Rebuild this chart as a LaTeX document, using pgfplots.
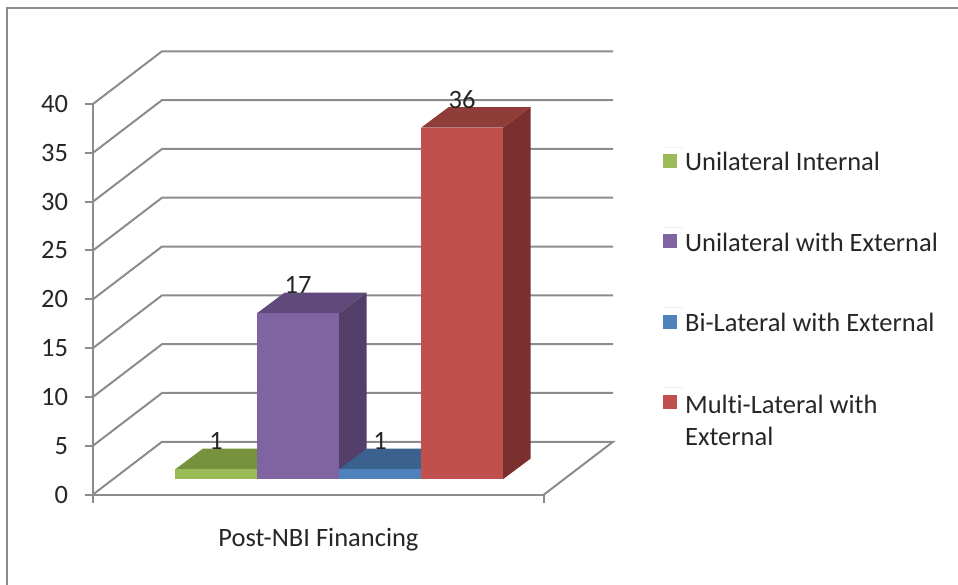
\documentclass[border=0pt]{standalone}
\usepackage{pgfplots}
\pgfplotsset{compat=1.18}
\usepackage{fontspec}
\setmainfont[RawFeature=-liga]{Carlito}
% One axis unit on x is 1pt; y carries the series values.
\definecolor{greenF}{HTML}{9BBB59}\definecolor{greenT}{HTML}{76923C}\definecolor{greenS}{HTML}{5F7530}
\definecolor{purpleF}{HTML}{8064A2}\definecolor{purpleT}{HTML}{604A7B}\definecolor{purpleS}{HTML}{533F69}
\definecolor{blueF}{HTML}{4F81BD}\definecolor{blueT}{HTML}{3B618E}\definecolor{blueS}{HTML}{335479}
\definecolor{redF}{HTML}{C0504D}\definecolor{redT}{HTML}{903C39}\definecolor{redS}{HTML}{7A302E}
\definecolor{framegrey}{HTML}{8C8C8C}
\newcommand{\chartfont}{\fontsize{26.5}{32}\selectfont}
% Offset of a bar's front face from the axis plane.
\newcommand{\barbase}{15.3pt}
\newcommand{\cuboid}[5]{% left edge, right edge, value, top colour, side colour
  \pgfmathsetmacro{\ba}{#1+27.7}\pgfmathsetmacro{\bb}{#2+27.7}\pgfmathsetmacro{\vb}{#3+2.12}
  \addplot[forget plot,fill=#4,draw=none,yshift=\barbase] coordinates {(#1,#3)(#2,#3)(\bb,\vb)(\ba,\vb)} --cycle;
  \addplot[forget plot,fill=#5,draw=none,yshift=\barbase] coordinates {(#2,0)(\bb,2.12)(\bb,\vb)(#2,#3)} --cycle;
}
\begin{document}
\begin{tikzpicture}[x=1pt,y=1pt]
\path[use as bounding box] (0,0) rectangle (958,584);
\draw[framegrey,line width=2.4pt] (7,-2) -- (7,576) -- (960,576);
\begin{axis}[
  at={(93pt,89.5pt)},anchor=south west,
  scale only axis,width=451pt,height=390.5pt,
  xmin=0,xmax=451,ymin=0,ymax=40,
  clip=false,
  axis x line*=bottom,axis y line*=left,
  axis line style={draw=framegrey,line width=2pt,-},
  tick style={draw=framegrey,line width=2pt},
  tick align=outside,
  major tick length=8.5pt,
  ytick={0,5,...,40},
  xtick={0,451},xticklabels={,},
  extra x ticks={225.5},extra x tick labels={Post-NBI Financing},
  extra x tick style={major tick length=0pt,tick label style={yshift=-30pt}},
  tick label style={font=\chartfont,text=black!85},
  /pgf/number format/assume math mode=true,
  yticklabel style={xshift=-13pt},
  every node near coord/.append style={anchor=center,yshift=28pt,font=\chartfont,text=black!85},
  legend style={at={(1.257,0.895)},anchor=north west,draw=none,fill=none,
    font=\chartfont,text=black!85,row sep=53pt},
  legend cell align=left,
  legend image code/.code={\fill[#1,overlay] (0pt,-21pt) rectangle (14pt,-7pt);\path (0pt,0pt) -- (20pt,0pt);},
]
% back wall and floor lines
\addplot[forget plot,framegrey,line width=2pt,unbounded coords=jump] coordinates {
 (0,0)(69,5.4)(520,5.4)(451,0) (0,nan)
 (0,5)(69,10.4)(520,10.4) (0,nan)
 (0,10)(69,15.4)(520,15.4) (0,nan)
 (0,15)(69,20.4)(520,20.4) (0,nan)
 (0,20)(69,25.4)(520,25.4) (0,nan)
 (0,25)(69,30.4)(520,30.4) (0,nan)
 (0,30)(69,35.4)(520,35.4) (0,nan)
 (0,35)(69,40.4)(520,40.4) (0,nan)
 (0,40)(69,45.4)(520,45.4)
};
% bars, left to right
\cuboid{82}{164}{1}{greenT}{greenS}
\addplot[ybar,bar width=82pt,bar shift=0pt,fill=greenF,draw=none,yshift=\barbase,nodes near coords] coordinates {(123,1)};
\addlegendentry{Unilateral Internal}
\cuboid{164}{246}{17}{purpleT}{purpleS}
\addplot[ybar,bar width=82pt,bar shift=0pt,fill=purpleF,draw=none,yshift=\barbase,nodes near coords] coordinates {(205,17)};
\addlegendentry{Unilateral with External}
\cuboid{246}{328}{1}{blueT}{blueS}
\addplot[ybar,bar width=82pt,bar shift=0pt,fill=blueF,draw=none,yshift=\barbase,nodes near coords] coordinates {(287,1)};
\addlegendentry{Bi-Lateral with External}
\cuboid{328}{410}{36}{redT}{redS}
\addplot[ybar,bar width=82pt,bar shift=0pt,fill=redF,draw=none,yshift=\barbase,nodes near coords] coordinates {(369,36)};
\addlegendentry{\begin{tabular}[t]{@{}l@{}}Multi-Lateral with\\External\end{tabular}}
\end{axis}
\end{tikzpicture}
\end{document}
